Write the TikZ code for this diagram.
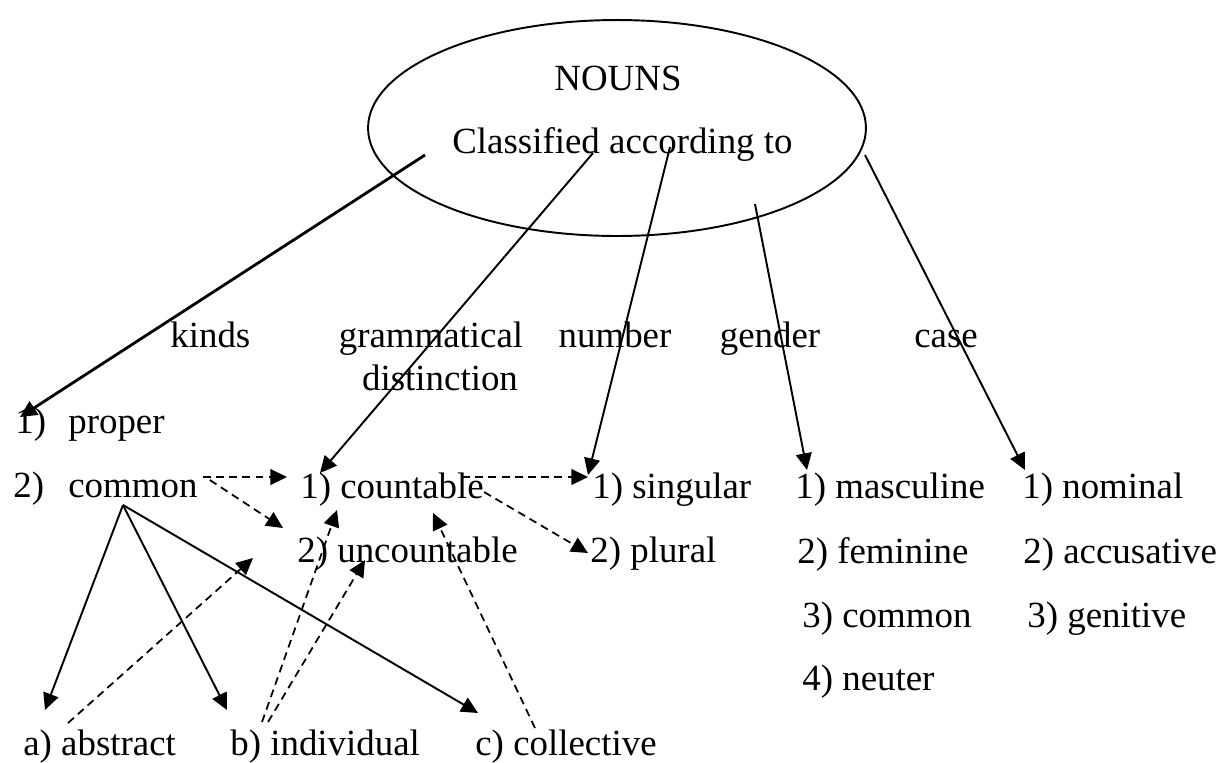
\documentclass[tikz,border=0pt]{standalone}
\usepackage{fontspec}
\setmainfont{Liberation Serif}
\usetikzlibrary{calc,arrows.meta,shapes.geometric}

\begin{document}
\begin{tikzpicture}[x=0.02cm, y=-0.02cm,
    every node/.style={inner sep=0pt, font=\fontsize{21}{25}\selectfont},
    item/.style={anchor=base west},
    head/.style={anchor=base},
    arr/.style={line width=1.1pt, -{Triangle[length=9.5pt, width=9pt]}},
    darr/.style={arr, line width=1pt, dash pattern=on 4.5pt off 3pt}]
    \useasboundingbox (0,0) rectangle (1223,762);

    % the ellipse at the top
    \node[draw, ellipse, line width=1.1pt, minimum width=9.96cm, minimum height=4.32cm]
      (nouns) at (617,128) {};
    \node[head] (title) at (618,90) {NOUNS};
    \node[item] (clsf) at (452,153) {Classified according to};

    % where the arrows leave the ellipse
    \coordinate (k0) at (425,155);
    \coordinate (g0) at (593,153);
    \coordinate (n0) at (670,147);
    \coordinate (d0) at (755,204);
    \coordinate (c0) at (865,155);

    % headings
    \node[item] (kinds) at (170,347) {kinds};
    \node[head] (gram) at (431,347) {grammatical};
    \node[head] (dist) at (440,390) {distinction};
    \node[head] (numb) at (615,347) {number};
    \node[head] (gend) at (770,347) {gender};
    \node[head] (case) at (946,347) {case};

    % kinds
    \node[item] (p1) at (15,433) {1)};
    \node[item] (prop) at (68,433) {proper};
    \node[item] (p2) at (13,497) {2)};
    \node[item] (com) at (68,497) {common};

    % grammatical distinction
    \node[item] (cnt) at (300,498) {1) countable};
    \node[item] (unc) at (297,562) {2) uncountable};

    % number
    \node[item] (sng) at (592,498) {1) singular};
    \node[item] (plu) at (590,562) {2) plural};

    % gender
    \node[item] (mas) at (795,498) {1) masculine};
    \node[item] (fem) at (797,563) {2) feminine};
    \node[item] (gcm) at (802,627) {3) common};
    \node[item] (neu) at (802,690) {4) neuter};

    % case
    \node[item] (nom) at (1022,498) {1) nominal};
    \node[item] (acc) at (1023,563) {2) accusative};
    \node[item] (gen) at (1027,627) {3) genitive};

    % kinds of common nouns
    \node[item] (abs) at (23,755) {a) abstract};
    \node[item] (ind) at (230,755) {b) individual};
    \node[item] (col) at (475,755) {c) collective};

    % arrows from the ellipse
    \draw[arr, line width=1.6pt] (k0) -- ($(p1.base west)+(5,-16)$);
    \draw[arr] (g0) -- ($(cnt.base west)+(20,-25)$);
    \draw[arr] (n0) -- ($(sng.base west)+(-4,-23)$);
    \draw[arr] (d0) -- ($(mas.base west)+(12,-28)$);
    \draw[arr] (c0) -- ($(nom.base west)+(3,-28)$);

    % common
    \draw[arr] ($(com.base west)+(55,8)$) -- ($(abs.base west)+(22,-45)$);
    \draw[arr] ($(com.base west)+(55,8)$) -- ($(ind.base west)+(-3,-45)$);
    \draw[arr] ($(com.base west)+(55,8)$) -- ($(col.base west)+(3,-42)$);
    \draw[darr] ($(com.base east)+(5,-20)$) -- ($(cnt.base west)+(-13,-21)$);
    \draw[darr] ($(com.base east)+(12,-17)$) -- ($(unc.base west)+(-14,-34)$);

    % countable
    \draw[darr] ($(cnt.base east)+(-22,-21)$) -- ($(sng.base west)+(-4,-21)$);
    \draw[darr] ($(cnt.base east)+(0,-6)$) -- ($(plu.base west)+(-2,-9)$);

    % back to countable / uncountable
    \draw[darr] ($(abs.base west)+(45,-32)$) -- ($(unc.base west)+(-44,-4)$);
    \draw[darr] ($(ind.base west)+(32,-33)$) -- ($(cnt.base west)+(37,12)$);
    \draw[darr] ($(ind.base west)+(38,-33)$) -- ($(unc.base west)+(68,-2)$);
    \draw[darr] ($(col.base west)+(60,-27)$) -- ($(cnt.base west)+(133,15)$);
\end{tikzpicture}
\end{document}
